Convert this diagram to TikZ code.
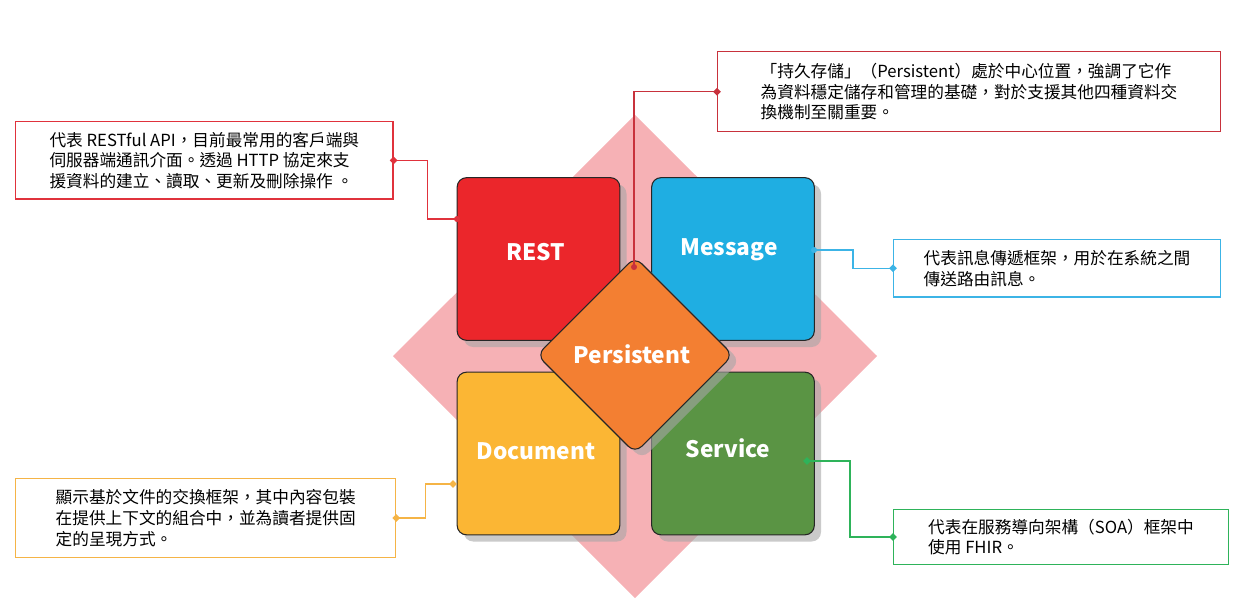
\documentclass[tikz,border=0pt]{standalone}
\usepackage{fontspec}
\setmainfont{Noto Sans CJK TC}
\usetikzlibrary{shapes.geometric}
\definecolor{pinkbg}{HTML}{F6B1B5}
\definecolor{cRest}{HTML}{EB262B}
\definecolor{cMsg}{HTML}{1FAEE2}
\definecolor{cDoc}{HTML}{FBB634}
\definecolor{cSvc}{HTML}{5A9444}
\definecolor{cPer}{HTML}{F37F32}
\definecolor{lRest}{HTML}{E0323C}
\definecolor{lMsg}{HTML}{3CB4E6}
\definecolor{lDoc}{HTML}{F5B446}
\definecolor{lSvc}{HTML}{2EB35A}
\definecolor{lPer}{HTML}{C8323C}
\begin{document}
\begin{tikzpicture}[x=0.75pt,y=-0.75pt,
  tile/.style={draw=black!85,line width=0.8pt,rounded corners=7pt,minimum width=122pt,minimum height=122pt,inner sep=0pt,text=white,font=\fontsize{17}{20}\selectfont\bfseries},
  shadowed/.style={preaction={fill=black!35,opacity=0.6,transform canvas={xshift=5pt,yshift=-5pt}}},
  callout/.style={draw,line width=1pt,fill=white,align=left,anchor=north west,inner xsep=8pt,inner ysep=5pt,font=\fontsize{12.5}{15.5}\selectfont},
  link/.style={line width=1pt},
  dot/.style={circle,fill,inner sep=1.6pt}]
\useasboundingbox (0,0) rectangle (1243,611);
\fill[pinkbg] (635,115) -- (877,356) -- (635,598) -- (393,356) -- cycle;
\node[tile,shadowed,fill=cRest] (rest) at (538.5,259) {};
\node[tile,shadowed,fill=cMsg] (msg) at (733,259) {};
\node[tile,shadowed,fill=cDoc] (doc) at (538.5,453.5) {};
\node[tile,shadowed,fill=cSvc] (svc) at (733,453.5) {};
\node[text=white,font=\fontsize{17}{20}\selectfont\bfseries] at (536,252) {REST};
\node[text=white,font=\fontsize{17}{20}\selectfont\bfseries] at (729,250) {Message};
\node[text=white,font=\fontsize{17}{20}\selectfont\bfseries] at (536,451) {Document};
\node[text=white,font=\fontsize{17}{20}\selectfont\bfseries] at (728,448) {Service};
\fill[black!35,opacity=0.6,rounded corners=7pt] (642,263) -- (740,361) -- (642,459) -- (544,361) -- cycle;
\draw[fill=cPer,draw=black!85,line width=0.8pt,rounded corners=7pt] (635,257) -- (733,355) -- (635,453) -- (537,355) -- cycle;
\node[text=white,font=\fontsize{17}{20}\selectfont\bfseries] (per) at (632,354) {Persistent};
% callouts
\node[callout,draw=lPer,minimum width=377pt,minimum height=60pt] (cper) at (717,51) {「持久存儲」（Persistent）處於中心位置，強調了它作\\為資料穩定儲存和管理的基礎，對於支援其他四種資料交\\換機制至關重要。};
\node[callout,draw=lRest,minimum width=283pt,minimum height=58pt] (crest) at (15,121) {代表 RESTful API，目前最常用的客戶端與\\伺服器端通訊介面。透過 HTTP 協定來支\\援資料的建立、讀取、更新及刪除操作 。};
\node[callout,draw=lMsg,minimum width=245pt,minimum height=43pt] (cmsg) at (893,239) {代表訊息傳遞框架，用於在系統之間\\傳送路由訊息。};
\node[callout,draw=lDoc,minimum width=285pt,minimum height=59pt] (cdoc) at (15,478) {顯示基於文件的交換框架，其中內容包裝\\在提供上下文的組合中，並為讀者提供固\\定的呈現方式。};
\node[callout,draw=lSvc,minimum width=251pt,minimum height=41pt] (csvc) at (893,509) {代表在服務導向架構（SOA）框架中\\使用 FHIR。};
% connectors
\coordinate (pa) at (634,267); \coordinate (ra) at (457,219); \coordinate (ma) at (814,250);
\coordinate (da) at (453,484); \coordinate (sa) at (807,461);
\draw[link,lPer] (pa) |- (cper.west);
\draw[link,lRest] (crest.east) -- ++(34,0) |- (ra);
\draw[link,lMsg] (ma) -- (853,250) |- (cmsg.west);
\draw[link,lDoc] (cdoc.east) -- ++(29,0) |- (da);
\draw[link,lSvc] (sa) -- (850,461) |- (csvc.west);
\node[dot,lPer] at (pa) {}; \node[dot,lPer,diamond,inner sep=1.5pt] at (cper.west) {};
\node[dot,lRest,diamond,inner sep=1.5pt] at (crest.east) {}; \node[dot,lRest] at (ra) {};
\node[dot,lMsg] at (ma) {}; \node[dot,lMsg,diamond,inner sep=1.5pt] at (cmsg.west) {};
\node[dot,lDoc,diamond,inner sep=1.5pt] at (cdoc.east) {}; \node[dot,lDoc,diamond,inner sep=1.5pt] at (da) {};
\node[dot,lSvc,diamond,inner sep=1.5pt] at (sa) {}; \node[dot,lSvc,diamond,inner sep=1.5pt] at (csvc.west) {};
\end{tikzpicture}
\end{document}
